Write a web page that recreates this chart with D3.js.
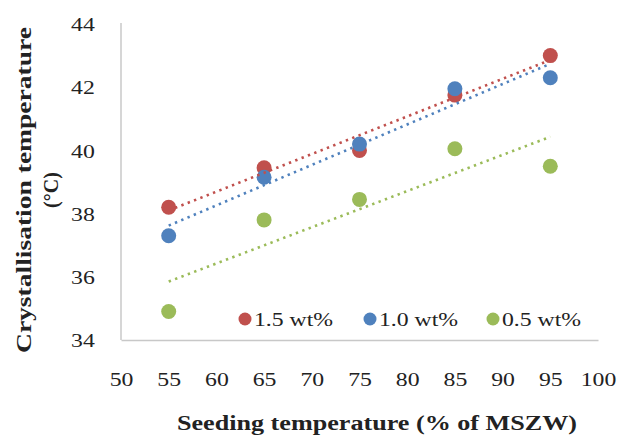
<!DOCTYPE html>
<html>
<head>
<meta charset="utf-8">
<script src="https://cdn.jsdelivr.net/npm/d3@7"></script>
<style>
  body { margin: 0; background: #fff; }
  text { font-family: "Liberation Serif", "Times New Roman", serif; fill: #222; }
</style>
</head>
<body>
<script>
(function(){

//chart data
var seedTemp = [55, 65, 75, 85, 95];
var wt15 = [38.2, 39.45, 40.0, 41.75, 43.0];
var wt10 = [37.3, 39.15, 40.2, 41.95, 42.3];
var wt05 = [34.9, 37.8, 38.45, 40.05, 39.5];
var seriesNames = ["1.5 wt%", "1.0 wt%", "0.5 wt%"];
var seriesColors = ["#c0504d", "#4f81bd", "#9bbb59"];
var xTicks = [50, 55, 60, 65, 70, 75, 80, 85, 90, 95, 100];
var yTicks = [34, 36, 38, 40, 42, 44];

var width = 618, height = 438;
var textStretch = 1.25; //labels in the figure are drawn wide

var svg = d3.select("body")
    .append("svg")
    .attr("width", width)
    .attr("height", height);

var xScale = d3.scaleLinear()
    .domain([50, 100])
    .range([121, 598]);

var yScale = d3.scaleLinear()
    .domain([34, 44])
    .range([340, 24]);

//y axis, no tick marks
var yAxis = svg.append("g")
    .attr("transform", "translate(" + xScale(50) + ",0)")
    .call(d3.axisLeft(yScale).tickValues(yTicks).tickSize(0).tickPadding(0).tickFormat(d3.format("d")));

yAxis.select(".domain").attr("stroke", "#c8c8c8").attr("stroke-width", 1.5)
    .attr("d", "M0," + (yScale(44) - 1) + "V" + yScale(34));
yAxis.selectAll("text")
    .attr("x", -21)
    .attr("dy", "0.35em")
    .attr("transform", "scale(" + textStretch + ",1)")
    .style("font-size", "19px")
    .style("font-family", "Liberation Serif");

//x axis
var xAxis = svg.append("g")
    .attr("transform", "translate(0," + yScale(34) + ")")
    .call(d3.axisBottom(xScale).tickValues(xTicks).tickSize(0).tickPadding(0).tickFormat(d3.format("d")));

xAxis.select(".domain").attr("stroke", "#c8c8c8").attr("stroke-width", 1.5);
xAxis.selectAll(".tick text")
    .attr("y", 0)
    .attr("dy", 0)
    .attr("transform", "translate(0,46) scale(" + textStretch + ",1)")
    .style("font-size", "19px")
    .style("font-family", "Liberation Serif");

var allSeries = [wt15, wt10, wt05];

//markers
allSeries.forEach(function(vals, s){
    svg.append("g").selectAll("circle")
        .data(vals)
        .enter()
        .append("circle")
        .attr("cx", function(d, i){ return xScale(seedTemp[i]); })
        .attr("cy", function(d){ return yScale(d); })
        .attr("r", 7.5)
        .attr("fill", seriesColors[s]);
});

//linear trendlines (least squares through each series)
function fitLine(xs, ys){
    var mx = d3.mean(xs), my = d3.mean(ys);
    var num = d3.sum(xs, function(x, i){ return (x - mx) * (ys[i] - my); });
    var den = d3.sum(xs, function(x){ return (x - mx) * (x - mx); });
    var slope = num / den;
    return function(x){ return my + slope * (x - mx); };
}

var line = d3.line()
    .x(function(d){ return xScale(d[0]); })
    .y(function(d){ return yScale(d[1]); });

allSeries.forEach(function(vals, s){
    var f = fitLine(seedTemp, vals);
    var ends = [seedTemp[0], seedTemp[seedTemp.length - 1]];
    svg.append("path")
        .datum(ends.map(function(x){ return [x, f(x)]; }))
        .attr("d", line)
        .attr("fill", "none")
        .attr("stroke", seriesColors[s])
        .attr("stroke-width", 2.6)
        .attr("stroke-dasharray", "2.4,4.4");
});

//legend inside plot area along the bottom
var legendX = [245, 370, 493];
var legend = svg.append("g");
seriesNames.forEach(function(name, s){
    legend.append("circle")
        .attr("cx", legendX[s])
        .attr("cy", 319)
        .attr("r", 6.5)
        .attr("fill", seriesColors[s]);
    legend.append("text")
        .attr("transform", "translate(" + (legendX[s] + 9) + ",326) scale(" + textStretch + ",1)")
        .style("font-size", "19px")
        .text(name);
});

//axis titles
svg.append("text")
    .attr("x", 377)
    .attr("y", 430)
    .attr("text-anchor", "middle")
    .attr("textLength", 400)
    .attr("lengthAdjust", "spacingAndGlyphs")
    .style("font-size", "20px")
    .style("font-weight", "bold")
    .text("Seeding temperature (% of MSZW)");

var yTitle = svg.append("g")
    .attr("transform", "translate(31,190) rotate(-90)");
yTitle.append("text")
    .attr("x", 0)
    .attr("y", 0)
    .attr("text-anchor", "middle")
    .attr("textLength", 326)
    .attr("lengthAdjust", "spacingAndGlyphs")
    .style("font-size", "20px")
    .style("font-weight", "bold")
    .text("Crystallisation temperature");
yTitle.append("text")
    .attr("x", 0)
    .attr("y", 27)
    .attr("text-anchor", "middle")
    .style("font-size", "20px")
    .style("font-weight", "bold")
    .text("(°C)");

})();
</script>
</body>
</html>
